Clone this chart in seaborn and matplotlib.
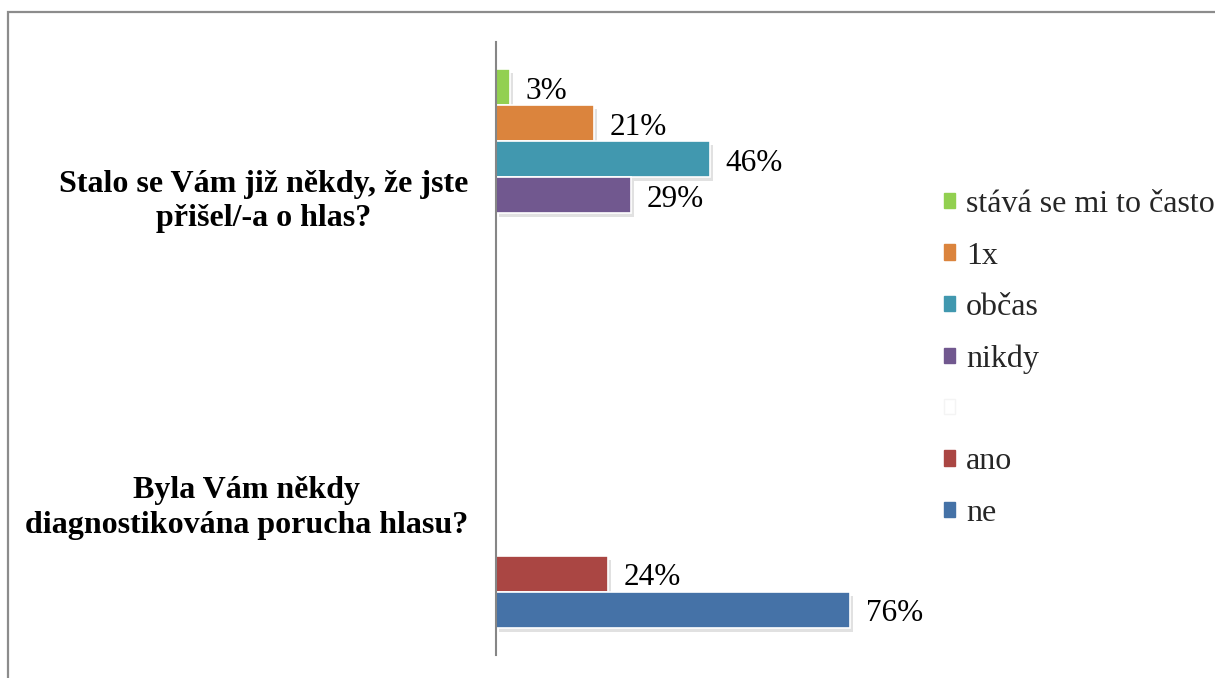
import matplotlib
matplotlib.use("Agg")
import matplotlib.pyplot as plt
import matplotlib.patheffects as pe
from matplotlib.patches import Patch, Rectangle
import seaborn as sns
import pandas as pd

# Survey questions (categories on the y axis)
questions = [
    "Stalo se Vám již někdy, že jste\npřišel/-a o hlas?",
    "Byla Vám někdy\ndiagnostikována porucha hlasu?",
]

# Answer series in legend order (one blank spacer series)
answers = ["stává se mi to často", "1x", "občas", "nikdy", " ", "ano", "ne"]
colors = ["#92D050", "#DB843D", "#4198AF", "#71588F", "#FFFFFF", "#AA4643", "#4572A7"]

# Percentages per question
q1_answers = ["stává se mi to často", "1x", "občas", "nikdy"]
q1_values = [3, 21, 46, 29]
q2_answers = ["ano", "ne"]
q2_values = [24, 76]

df = pd.DataFrame({
    "question": [questions[0]] * len(q1_values) + [questions[1]] * len(q2_values),
    "answer": q1_answers + q2_answers,
    "value": q1_values + q2_values,
})

sns.set_theme(style="white")
plt.rcParams["font.family"] = ["Liberation Serif", "DejaVu Serif"]

fig = plt.figure(figsize=(12.15, 6.78), dpi=100)
ax = fig.add_axes([496 / 1215, 1 - 655 / 678, (869 - 496) / 1215, (655 - 42) / 678])

sns.barplot(
    data=df, y="question", x="value", hue="answer",
    order=questions, hue_order=answers,
    palette=dict(zip(answers, colors)),
    orient="h", width=0.822, dodge=True,
    edgecolor="white", linewidth=1.2, saturation=1,
    legend=False, ax=ax,
)

shadow = [pe.SimplePatchShadow(offset=(2, -3), shadow_rgbFace="#8a8a8a", alpha=0.25), pe.Normal()]
for patch in ax.patches:
    patch.set_path_effects(shadow)

for container in ax.containers:
    texts = ax.bar_label(container, fmt="%g%%", padding=11, fontsize=22.5, color="black")
    for t in texts:
        t.xyann = (11, -2.8)

ax.set_xlim(0, 80)
ax.set_xlabel("")
ax.set_ylabel("")
ax.set_xticks([])
ax.tick_params(axis="y", length=0, pad=20)
for lbl in ax.get_yticklabels():
    lbl.set_fontsize(23)
    lbl.set_fontweight("bold")
    lbl.set_multialignment("center")
    lbl.set_linespacing(1.25)
    lbl.set_color("black")

for side in ["top", "right", "bottom"]:
    ax.spines[side].set_visible(False)
ax.spines["left"].set_color("#868686")
ax.spines["left"].set_linewidth(1.5)

handles = [Patch(facecolor=c, edgecolor=("#f4f4f4" if c == "#FFFFFF" else c)) for c in colors]
fig.legend(
    handles, answers, loc="center left",
    bbox_to_anchor=(944 / 1215, 1 - 359 / 678),
    frameon=False, fontsize=23, handlelength=0.36, handleheight=0.36,
    handletextpad=0.33, labelspacing=0.7, borderpad=0, borderaxespad=0,
)

# Outer chart-area border
fig.patches.append(Rectangle((8 / 1215, -0.05), 1.2, 1 - 12 / 678 + 0.05,
                             transform=fig.transFigure, fill=False,
                             edgecolor="#8c8c8c", linewidth=1.6, zorder=0))

fig.savefig("out.png", dpi=100, facecolor="white")
